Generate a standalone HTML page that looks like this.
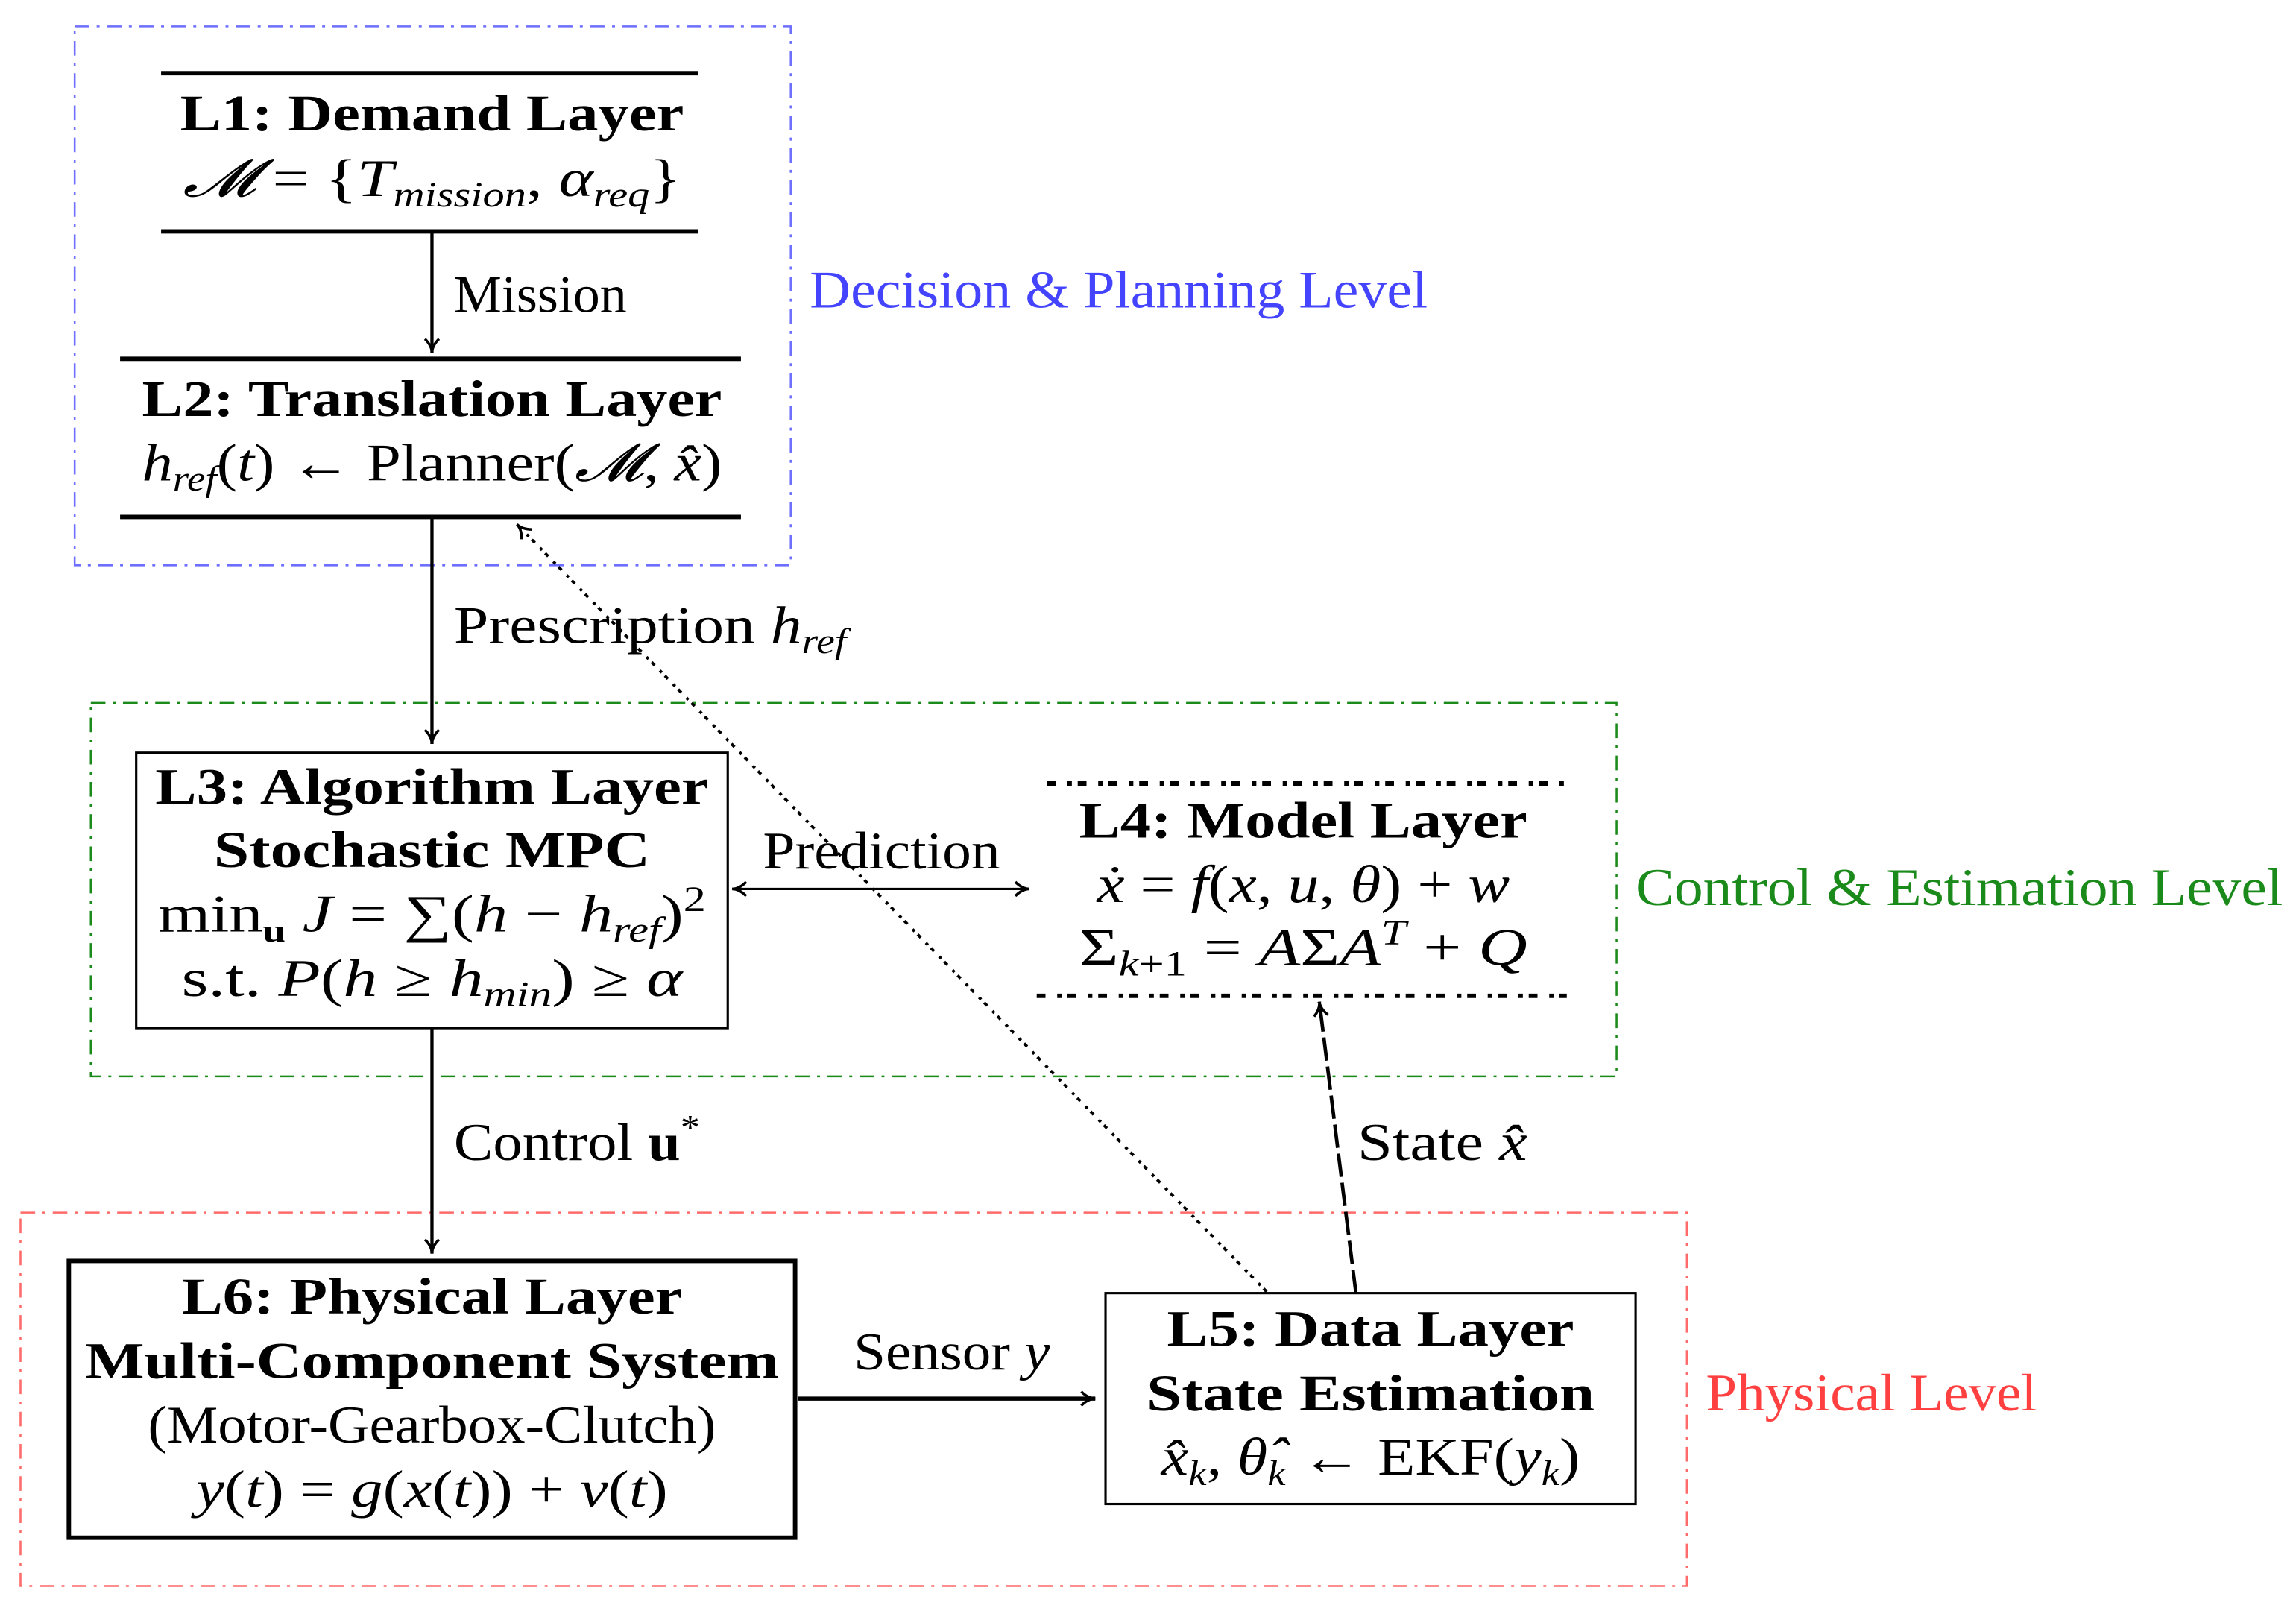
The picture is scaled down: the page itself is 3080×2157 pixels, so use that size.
<!DOCTYPE html>
<html><head><meta charset="utf-8"><style>
html,body{margin:0;padding:0;background:#fff;}
svg{display:block;}
text{font-family:"Liberation Serif","DejaVu Serif",serif;fill:#000;}
.b{font-weight:bold;font-size:35px;}
.m{font-size:36px;}
.l{font-size:36px;}
.i{font-style:italic;}
.s{font-size:24px;font-style:italic;}
</style></head><body>
<svg width="3080" height="2157" viewBox="0 0 1568 1098" preserveAspectRatio="none" xmlns="http://www.w3.org/2000/svg">
<defs>
<marker id="ah" viewBox="0 0 10 10" refX="9" refY="5" markerWidth="12" markerHeight="12" markerUnits="userSpaceOnUse" orient="auto-start-reverse">
<path d="M1,1 Q5,5 9,5 Q5,5 1,9" fill="none" stroke="#000" stroke-width="1.5"/>
</marker>
</defs>
<rect x="51" y="18" width="489" height="368" fill="none" stroke="#6f6fff" stroke-width="1.3" stroke-dasharray="10,5,2,5"/>
<text x="553" y="210" class="l" style="fill:#4444ff" textLength="422" lengthAdjust="spacingAndGlyphs">Decision &amp; Planning Level</text>
<rect x="62" y="480" width="1042" height="255" fill="none" stroke="#1a8a1a" stroke-width="1.3" stroke-dasharray="10,5,2,5"/>
<text x="1117" y="618" class="l" style="fill:#1a8a1a" textLength="442" lengthAdjust="spacingAndGlyphs">Control &amp; Estimation Level</text>
<rect x="14" y="828" width="1138" height="255" fill="none" stroke="#ff6a6a" stroke-width="1.3" stroke-dasharray="10,5,2,5"/>
<text x="1165" y="963" class="l" style="fill:#ff4040" textLength="226" lengthAdjust="spacingAndGlyphs">Physical Level</text>

<!-- L1 -->
<line x1="110" y1="50" x2="477" y2="50" stroke="#000" stroke-width="3"/>
<line x1="110" y1="158" x2="477" y2="158" stroke="#000" stroke-width="3"/>
<text x="295" y="89" class="b" text-anchor="middle" textLength="344" lengthAdjust="spacingAndGlyphs">L1:  Demand Layer</text>
<text x="295" y="134" class="m" text-anchor="middle" textLength="340" lengthAdjust="spacingAndGlyphs"><tspan class="i">𝓜</tspan> = {<tspan class="i">T</tspan><tspan class="s" dy="7">mission</tspan><tspan dy="-7">, </tspan><tspan class="i">α</tspan><tspan class="s" dy="7">req</tspan><tspan dy="-7">}</tspan></text>
<line x1="295" y1="158" x2="295" y2="241" stroke="#000" stroke-width="2.2" marker-end="url(#ah)"/>
<text x="310" y="213" class="l" textLength="118" lengthAdjust="spacingAndGlyphs">Mission</text>

<!-- L2 -->
<line x1="82" y1="245" x2="506" y2="245" stroke="#000" stroke-width="3"/>
<line x1="82" y1="353" x2="506" y2="353" stroke="#000" stroke-width="3"/>
<text x="295" y="284" class="b" text-anchor="middle" textLength="396" lengthAdjust="spacingAndGlyphs">L2:  Translation Layer</text>
<text x="295" y="328" class="m" text-anchor="middle" textLength="396" lengthAdjust="spacingAndGlyphs"><tspan class="i">h</tspan><tspan class="s" dy="7">ref</tspan><tspan dy="-7">(</tspan><tspan class="i">t</tspan>) ← Planner(<tspan class="i">𝓜</tspan>, <tspan class="i">x̂</tspan>)</text>
<line x1="295" y1="353" x2="295" y2="508" stroke="#000" stroke-width="2.2" marker-end="url(#ah)"/>
<text x="310" y="439" class="l" textLength="268" lengthAdjust="spacingAndGlyphs">Prescription <tspan class="i">h</tspan><tspan class="s" dy="7">ref</tspan></text>

<!-- L3 -->
<rect x="93" y="514" width="404" height="188" fill="none" stroke="#000" stroke-width="1.6"/>
<text x="295" y="549" class="b" text-anchor="middle" textLength="378" lengthAdjust="spacingAndGlyphs">L3:  Algorithm Layer</text>
<text x="295" y="592" class="b" text-anchor="middle" textLength="298" lengthAdjust="spacingAndGlyphs">Stochastic MPC</text>
<text x="295" y="636" class="m" text-anchor="middle" textLength="374" lengthAdjust="spacingAndGlyphs">min<tspan font-size="22" font-weight="bold" dy="7">u</tspan><tspan dy="-7"> </tspan><tspan class="i">J</tspan> = ∑(<tspan class="i">h</tspan> − <tspan class="i">h</tspan><tspan class="s" dy="7">ref</tspan><tspan dy="-7">)</tspan><tspan font-size="24" dy="-14">2</tspan></text>
<text x="295" y="680" class="m" text-anchor="middle" textLength="342" lengthAdjust="spacingAndGlyphs">s.t.  <tspan class="i">P</tspan>(<tspan class="i">h</tspan> ≥ <tspan class="i">h</tspan><tspan class="s" dy="7">min</tspan><tspan dy="-7">) ≥ </tspan><tspan class="i">α</tspan></text>

<!-- L4 -->
<line x1="715" y1="535" x2="1070" y2="535" stroke="#000" stroke-width="3" stroke-dasharray="6,8,3,4"/>
<line x1="708" y1="680" x2="1070" y2="680" stroke="#000" stroke-width="3" stroke-dasharray="6,8,3,4"/>
<text x="890" y="572" class="b" text-anchor="middle" textLength="306" lengthAdjust="spacingAndGlyphs">L4:  Model Layer</text>
<text x="890" y="616" class="m" text-anchor="middle" textLength="282" lengthAdjust="spacingAndGlyphs"><tspan class="i">ẋ</tspan> = <tspan class="i">f</tspan>(<tspan class="i">x</tspan>, <tspan class="i">u</tspan>, <tspan class="i">θ</tspan>) + <tspan class="i">w</tspan></text>
<text x="890" y="659" class="m" text-anchor="middle" textLength="306" lengthAdjust="spacingAndGlyphs">Σ<tspan class="s" dy="7">k</tspan><tspan font-size="24" dy="0">+1</tspan><tspan dy="-7"> = </tspan><tspan class="i">A</tspan>Σ<tspan class="i">A</tspan><tspan class="s" dy="-14">T</tspan><tspan dy="14"> + </tspan><tspan class="i">Q</tspan></text>

<line x1="500" y1="607" x2="703" y2="607" stroke="#000" stroke-width="1.6" marker-start="url(#ah)" marker-end="url(#ah)"/>
<text x="602" y="593" class="l" text-anchor="middle" textLength="162" lengthAdjust="spacingAndGlyphs">Prediction</text>

<line x1="295" y1="702" x2="295" y2="856" stroke="#000" stroke-width="2.2" marker-end="url(#ah)"/>
<text x="310" y="792" class="l" textLength="168" lengthAdjust="spacingAndGlyphs">Control <tspan font-weight="bold">u</tspan><tspan font-size="24" dy="-14">*</tspan></text>

<!-- L6 -->
<rect x="47" y="861" width="496" height="189" fill="none" stroke="#000" stroke-width="3"/>
<text x="295" y="897" class="b" text-anchor="middle" textLength="342" lengthAdjust="spacingAndGlyphs">L6:  Physical Layer</text>
<text x="295" y="941" class="b" text-anchor="middle" textLength="474" lengthAdjust="spacingAndGlyphs">Multi-Component System</text>
<text x="295" y="985" class="m" text-anchor="middle" textLength="388" lengthAdjust="spacingAndGlyphs">(Motor-Gearbox-Clutch)</text>
<text x="295" y="1029" class="m" text-anchor="middle" textLength="322" lengthAdjust="spacingAndGlyphs"><tspan class="i">y</tspan>(<tspan class="i">t</tspan>) = <tspan class="i">g</tspan>(<tspan class="i">x</tspan>(<tspan class="i">t</tspan>)) + <tspan class="i">v</tspan>(<tspan class="i">t</tspan>)</text>

<line x1="545" y1="955" x2="748" y2="955" stroke="#000" stroke-width="2.8" marker-end="url(#ah)"/>
<text x="650" y="935" class="l" text-anchor="middle" textLength="134" lengthAdjust="spacingAndGlyphs">Sensor <tspan class="i">y</tspan></text>

<!-- L5 -->
<rect x="755" y="883" width="362" height="144" fill="none" stroke="#000" stroke-width="1.6"/>
<text x="936" y="919" class="b" text-anchor="middle" textLength="278" lengthAdjust="spacingAndGlyphs">L5:  Data Layer</text>
<text x="936" y="963" class="b" text-anchor="middle" textLength="306" lengthAdjust="spacingAndGlyphs">State Estimation</text>
<text x="936" y="1007" class="m" text-anchor="middle" textLength="286" lengthAdjust="spacingAndGlyphs"><tspan class="i">x̂</tspan><tspan class="s" dy="7">k</tspan><tspan dy="-7">, </tspan><tspan class="i">θ̂</tspan><tspan class="s" dy="7">k</tspan><tspan dy="-7"> ← EKF(</tspan><tspan class="i">y</tspan><tspan class="s" dy="7">k</tspan><tspan dy="-7">)</tspan></text>

<line x1="926" y1="883" x2="901" y2="684" stroke="#000" stroke-width="2.4" stroke-dasharray="16,4" marker-end="url(#ah)"/>
<text x="927" y="792" class="l" textLength="116" lengthAdjust="spacingAndGlyphs">State <tspan class="i">x̂</tspan></text>

<line x1="865" y1="882" x2="353" y2="358" stroke="#000" stroke-width="2" stroke-dasharray="3,3,2,5" marker-end="url(#ah)"/>
</svg>
</body></html>
